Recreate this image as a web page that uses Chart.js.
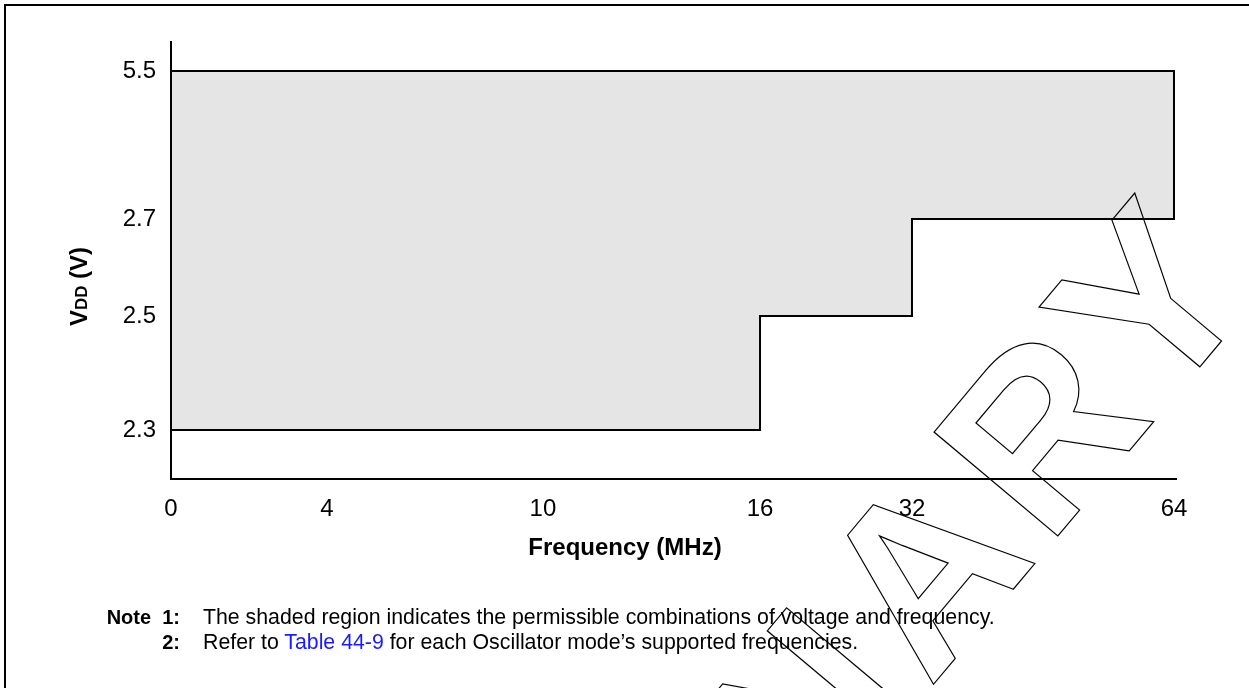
<!DOCTYPE html>
<html>
<head>
<meta charset="utf-8">
<title>VDD vs Frequency</title>
<script src="https://cdn.jsdelivr.net/npm/chart.js@4.4.1/dist/chart.umd.min.js"></script>
<style>
  html, body { margin: 0; padding: 0; background: #fff; overflow: hidden; }
  #wrap { position: relative; width: 1249px; height: 688px; overflow: hidden; }
  #frame { position: absolute; left: 4px; top: 4px; width: 1400px; height: 800px;
           border-left: 2px solid #000; border-top: 2px solid #000; }
  #chartBox { position: absolute; left: 0; top: 0; width: 1249px; height: 688px; }
  .note { position: absolute; font-family: "Liberation Sans", Arial, sans-serif; font-size: 21.3px;
          line-height: 25px; color: #000; white-space: nowrap; }
  .note.lbl { left: 0; width: 180px; text-align: right; font-weight: bold; font-size: 20px; }
  .note.txt { left: 203px; }
  .note a { color: #1a1aff; text-decoration: none; }
</style>
</head>
<body>
<div id="wrap">
  <div id="frame"></div>
  <div id="chartBox"><canvas id="vddChart"></canvas></div>
  <div class="note lbl" style="top:605px">Note&nbsp; 1:</div>
  <div class="note txt" style="top:605px">The shaded region indicates the permissible combinations of voltage and frequency.</div>
  <div class="note lbl" style="top:630px">2:</div>
  <div class="note txt" style="top:630px">Refer to <a>Table 44-9</a> for each Oscillator mode’s supported frequencies.</div>
</div>
<script>
// axis tick values
const freqTicks = [0, 4, 10, 16, 32, 64];
const vddTicks = [2.3, 2.5, 2.7, 5.5];

// outline of the permitted region (frequency in MHz, VDD in volts)
const boundaryFreq = [0, 64, 64, 32, 32, 16, 16, 0, 0];
const boundaryVdd = [5.5, 5.5, 2.7, 2.7, 2.5, 2.5, 2.3, 2.3, 5.5];

const FONT = '"Liberation Sans", Arial, sans-serif';

// the original axes are not to scale: each tick sits at its own spot along the axis
const scaleBreaks = {
    x: { values: freqTicks, positions: [0, 0.1552, 0.3701, 0.5861, 0.7373, 0.998] },
    y: { values: vddTicks, positions: [0.1121, 0.373, 0.595, 0.9336] }
};

function interp(xs, ys, v) {
    let i = 1;
    while (i < xs.length - 1 && v > xs[i]) i++;
    return ys[i - 1] + (v - xs[i - 1]) * (ys[i] - ys[i - 1]) / (xs[i] - xs[i - 1]);
}

class PiecewiseScale extends Chart.LinearScale {
    getPixelForValue(value) {
        const b = scaleBreaks[this.id];
        const f = interp(b.values, b.positions, value);
        return this.isHorizontal() ? this.left + f * this.width : this.bottom - f * this.height;
    }
    getValueForPixel(pixel) {
        const b = scaleBreaks[this.id];
        const f = this.isHorizontal() ? (pixel - this.left) / this.width : (this.bottom - pixel) / this.height;
        return interp(b.positions, b.values, f);
    }
}
PiecewiseScale.id = 'piecewise';
PiecewiseScale.defaults = Chart.LinearScale.defaults;
Chart.register(PiecewiseScale);

// axis titles: "VDD (V)" with the small-caps DD, and the frequency title set left of centre
const axisTitlePlugin = {
    id: 'axisTitles',
    afterDraw(chart) {
        const ctx = chart.ctx;
        const parts = [
            { t: 'V', size: 24 },
            { t: 'DD', size: 17 },
            { t: ' (V)', size: 24 }
        ];
        ctx.save();
        let total = 0;
        parts.forEach(p => {
            ctx.font = 'bold ' + p.size + 'px ' + FONT;
            p.w = ctx.measureText(p.t).width;
            total += p.w;
        });
        ctx.translate(78, (chart.chartArea.top + chart.chartArea.bottom) / 2 + 26);
        ctx.rotate(-Math.PI / 2);
        ctx.fillStyle = '#000';
        ctx.textBaseline = 'alphabetic';
        ctx.textAlign = 'left';
        let x = -total / 2;
        parts.forEach(p => {
            ctx.font = 'bold ' + p.size + 'px ' + FONT;
            ctx.fillText(p.t, x, 8.6);
            x += p.w;
        });
        ctx.restore();

        ctx.save();
        ctx.font = 'bold 24px ' + FONT;
        ctx.fillStyle = '#000';
        ctx.textAlign = 'center';
        ctx.textBaseline = 'middle';
        ctx.fillText('Frequency (MHz)', 625, 548);
        ctx.restore();
    }
};

// outlined PRELIMINARY watermark
const watermarkPlugin = {
    id: 'watermark',
    afterDraw(chart) {
        const ctx = chart.ctx;
        const ang = -50 * Math.PI / 180;
        const spacing = 14;
        ctx.save();
        ctx.translate(1261 + spacing * Math.cos(ang), 294 + spacing * Math.sin(ang));
        ctx.rotate(ang);
        ctx.font = 'bold 235px ' + FONT;
        ctx.letterSpacing = spacing + 'px';
        ctx.textAlign = 'right';
        ctx.textBaseline = 'alphabetic';
        ctx.lineWidth = 1.2;
        ctx.strokeStyle = '#000';
        ctx.strokeText('PRELIMINARY', 0, 0);
        ctx.restore();
    }
};

const ctx = document.getElementById('vddChart').getContext('2d');
new Chart(ctx, {
    type: 'scatter',
    data: {
        datasets: [{
            data: boundaryFreq.map((f, i) => ({ x: f, y: boundaryVdd[i] })),
            showLine: true,
            borderColor: '#000',
            borderWidth: 2,
            backgroundColor: '#e5e5e5',
            fill: 'shape',
            pointRadius: 0,
            tension: 0,
            clip: false
        }]
    },
    options: {
        responsive: true,
        maintainAspectRatio: false,
        animation: false,
        events: [],
        layout: { padding: { left: 0, top: 42, right: 73, bottom: 126 } },
        plugins: {
            legend: { display: false },
            tooltip: { enabled: false }
        },
        scales: {
            x: {
                type: 'piecewise',
                min: 0,
                max: 64,
                grid: { display: false, drawTicks: false },
                border: { display: true, color: '#000', width: 2 },
                afterBuildTicks: s => { s.ticks = freqTicks.map(v => ({ value: v })); },
                afterFit: s => { s.height = 83; s.paddingLeft = 0; s.paddingRight = 0; },
                ticks: {
                    autoSkip: false,
                    maxRotation: 0,
                    padding: 16,
                    color: '#000',
                    font: { size: 24, family: FONT },
                    callback: v => String(v)
                }
            },
            y: {
                type: 'piecewise',
                min: 2.3,
                max: 5.5,
                grid: { display: false, drawTicks: false },
                border: { display: true, color: '#000', width: 2 },
                afterBuildTicks: s => { s.ticks = vddTicks.map(v => ({ value: v })); },
                afterFit: s => { s.width = 171; s.paddingTop = 0; s.paddingBottom = 0; },
                ticks: {
                    autoSkip: false,
                    padding: 15,
                    color: '#000',
                    font: { size: 24, family: FONT },
                    callback: v => String(v)
                }
            }
        }
    },
    plugins: [axisTitlePlugin, watermarkPlugin]
});
</script>
</body>
</html>
